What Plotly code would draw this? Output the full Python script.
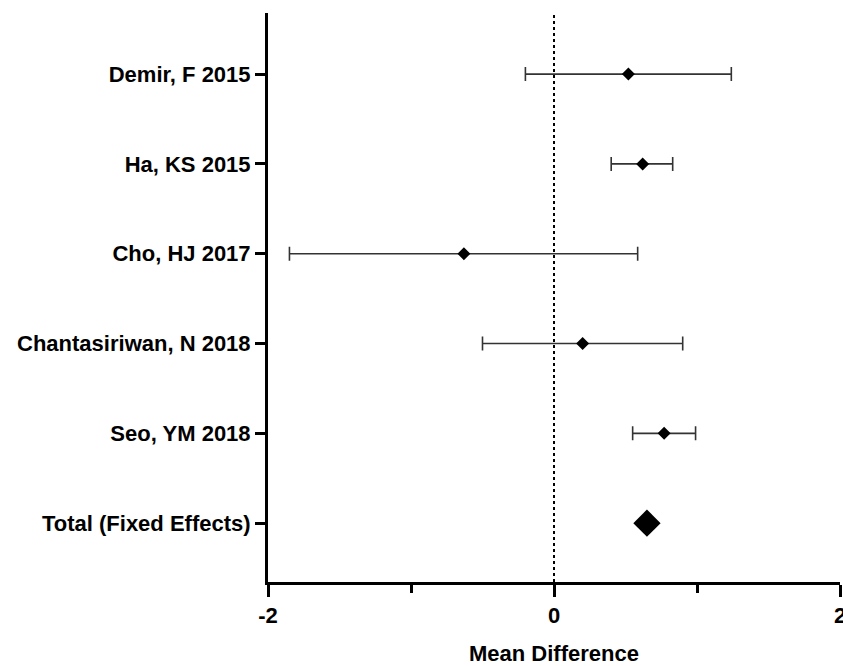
import plotly.graph_objects as go

studies = ["Demir, F 2015", "Ha, KS 2015", "Cho, HJ 2017", "Chantasiriwan, N 2018", "Seo, YM 2018"]
mean_diff = [0.52, 0.62, -0.63, 0.20, 0.77]
ci_lower = [-0.20, 0.40, -1.85, -0.50, 0.55]
ci_upper = [1.24, 0.83, 0.585, 0.90, 0.99]
total_label = "Total (Fixed Effects)"
total_value = 0.65
x_ticks = [-2, 0, 2]

labels = studies + [total_label]
ypos = list(range(len(labels), 0, -1))
study_y = ypos[:len(studies)]
total_y = ypos[-1]

fig = go.Figure()
fig.add_trace(go.Scatter(
    x=mean_diff, y=study_y, mode="markers",
    marker=dict(symbol="diamond", size=10, color="black"),
    error_x=dict(type="data", symmetric=False,
                 array=[u - m for u, m in zip(ci_upper, mean_diff)],
                 arrayminus=[m - l for m, l in zip(mean_diff, ci_lower)],
                 color="#333333", thickness=1.6, width=7),
    showlegend=False,
))
fig.add_trace(go.Scatter(
    x=[total_value], y=[total_y], mode="markers",
    marker=dict(symbol="diamond", size=21, color="black"),
    showlegend=False,
))

fig.add_shape(type="line", x0=0, x1=0, xref="x", y0=0, y1=1, yref="paper",
              line=dict(color="black", width=2, dash="dot"), layer="below")

font_family = "Liberation Sans, Arial, sans-serif"
fig.update_layout(
    width=843, height=666,
    margin=dict(l=268, r=3, t=13, b=84),
    plot_bgcolor="white", paper_bgcolor="white",
    font=dict(family=font_family, color="black"),
    xaxis=dict(
        range=[-2, 2], tickvals=x_ticks, ticktext=["<b>%s</b>" % v for v in x_ticks],
        ticklabeloverflow="allow", automargin=False,
        showline=True, linecolor="black", linewidth=3, mirror=False,
        ticks="outside", ticklen=12, tickwidth=3, tickcolor="black",
        minor=dict(dtick=1, ticks="outside", ticklen=8, tickwidth=3, tickcolor="black"),
        showgrid=False, zeroline=False,
        tickfont=dict(size=22, family=font_family),
        title=dict(text="<b>Mean Difference</b>", font=dict(size=22), standoff=20),
    ),
    yaxis=dict(
        range=[0.345, 6.68], tickvals=ypos, ticktext=["<b>%s</b>" % t for t in labels],
        automargin=False,
        showline=True, linecolor="black", linewidth=3,
        ticks="outside", ticklen=10, tickwidth=3, tickcolor="black",
        showgrid=False, zeroline=False,
        tickfont=dict(size=22, family=font_family),
    ),
)

fig.write_html("out.html")
